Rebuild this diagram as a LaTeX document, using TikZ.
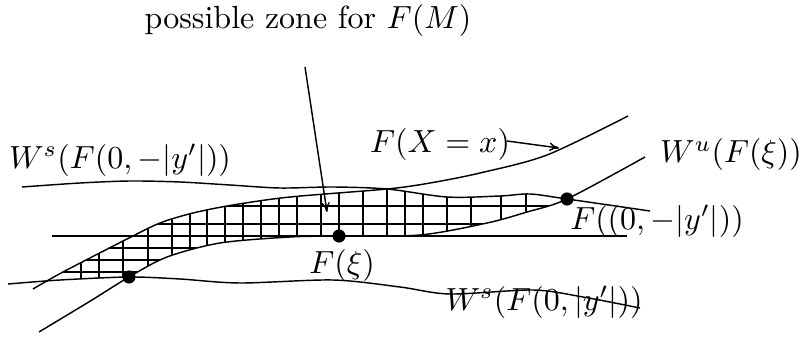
\documentclass[tikz,border=0pt]{standalone}
\usetikzlibrary{arrows.meta}
\begin{document}
\begin{tikzpicture}[x=0.3125pt,y=-0.3125pt,
  curve/.style={line width=0.45pt},
  hatchline/.style={line width=0.45pt},
  dot/.style={circle,fill=black,inner sep=0pt,minimum size=4.1pt},
  lbl/.style={inner sep=1pt},
  pointer/.style={line width=0.45pt,-{To[length=3pt,width=2.6pt]}}]
\useasboundingbox (0,0) rectangle (799,339);
% curves
\def\cA{plot[smooth] coordinates {(22,187) (80,183) (130,181) (180,182) (230,185) (280,188) (333,187) (387,189) (447,197) (500,196) (530,194) (567,199) (650,211)}}
\def\cB{plot[smooth] coordinates {(33,289) (63,272) (127,239) (160,223) (193,213) (233,205) (290,197) (387,189) (430,183) (480,173) (547,155) (628,116)}}
\def\cC{plot[smooth] coordinates {(39,332) (92,300) (129,277) (167,257) (220,243) (290,237) (339,236) (420,235) (487,223) (527,212) (567,199) (645,157)}}
\def\cD{plot[smooth] coordinates {(8,284) (60,280) (129,277) (180,279) (240,283) (333,280) (400,287) (450,294) (533,290) (583,297) (640,308)}}
% hatched zone
\begin{scope}
  \clip \cB -- (628,339) -- (33,339) -- cycle;
  \clip \cA -- (650,339) -- (22,339) -- cycle;
  \clip \cD -- (640,0) -- (8,0) -- cycle;
  \clip \cC -- (645,0) -- (39,0) -- cycle;
  \foreach \x in {81,99,123,148,172,190,207,225,243,261,279,297,321,339,363,387,405,423,447,471,501,526}
    \draw[hatchline] (\x,150) -- (\x,300);
  \foreach \y in {206,224,248,260,272}
    \draw[hatchline] (40,\y) -- (600,\y);
\end{scope}
\draw[curve] \cA;
\draw[curve] \cB;
\draw[curve] \cC;
\draw[curve] \cD;
\coordinate (hl) at (52,236);
\coordinate (hr) at (627,236);
\draw[curve] (hl) -- (hr);
% dots
\node[dot] (d1) at (129,277) {};
\node[dot] (d2) at (567,199) {};
\node[dot] (d3) at (339,236) {};
% labels
\node[lbl] (zone) at (308,21) {possible zone for $F(M)$};
\node[lbl] (fx) at (440,145) {$F(X=x)$};
\node[lbl] (wu) at (731,155) {$W^u(F(\xi))$};
\node[lbl] (wsm) at (120,160) {$W^s(F(0,-|y'|))$};
\node[lbl] (fm) at (657,221) {$F((0,-|y'|))$};
\node[lbl] (fxi) at (342,265) {$F(\xi)$};
\node[lbl] (wsp) at (544,302) {$W^s(F(0,|y'|))$};
% pointers
\coordinate (pzs) at (305,67);
\coordinate (pzt) at (327,212);
\draw[pointer] (pzs) -- (pzt);
\coordinate (fxs) at (507,141);
\coordinate (fxt) at (559,148);
\draw[pointer] (fxs) -- (fxt);
\end{tikzpicture}
\end{document}
